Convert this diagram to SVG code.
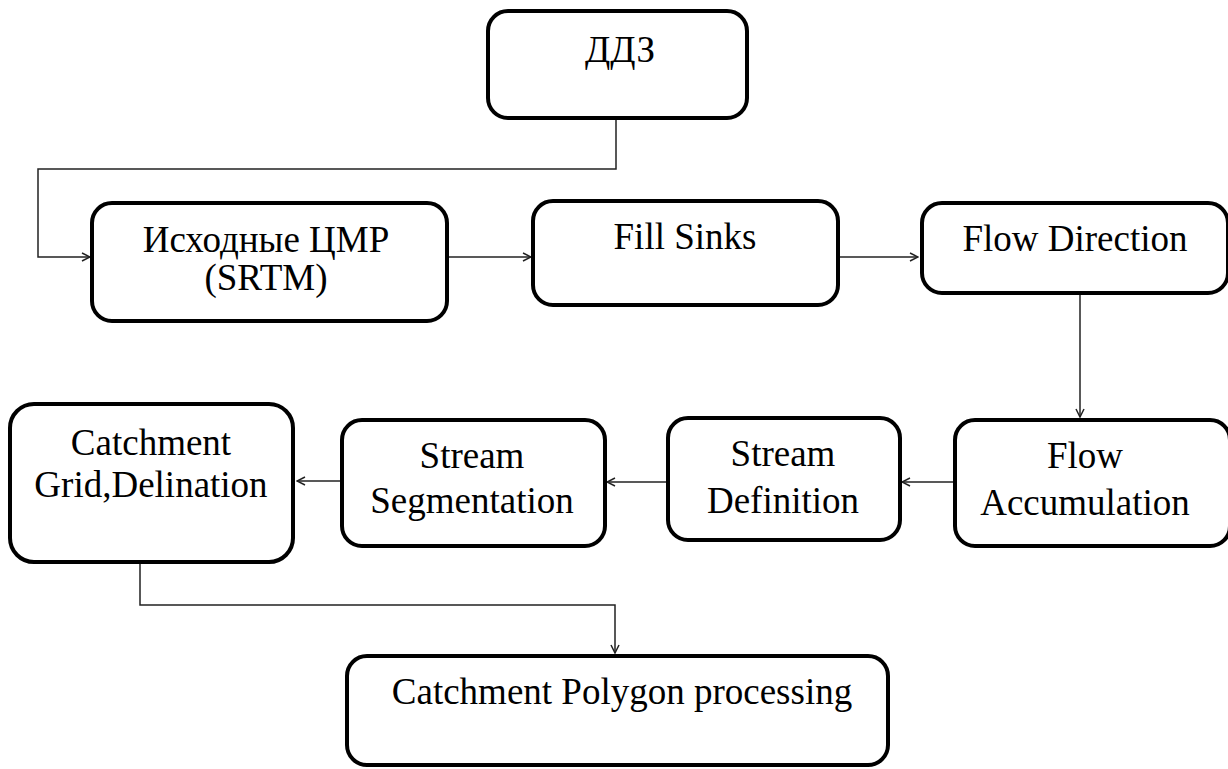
<svg xmlns="http://www.w3.org/2000/svg" width="1228" height="769" viewBox="0 0 1228 769">
<style>
.box{fill:#fff;stroke:#000;stroke-width:4}
.t{font-family:'Liberation Serif','Times New Roman','DejaVu Serif',serif;font-size:37px;fill:#000;text-anchor:middle}
.c{fill:none;stroke:#222;stroke-width:1.5}
</style>
<defs>
<marker id="a" viewBox="0 0 10 10" refX="9" refY="5" markerWidth="10" markerHeight="10" markerUnits="userSpaceOnUse" orient="auto">
<path d="M1,1 L9,5 L1,9" fill="none" stroke="#222" stroke-width="1.5"/>
</marker>
</defs>
<rect width="1228" height="769" fill="#fff"/>
<g id="connectors">
<path class="c" d="M616,118 V169 H38 V257 H90" marker-end="url(#a)"/>
<path class="c" d="M447,257 H531" marker-end="url(#a)"/>
<path class="c" d="M838,257 H918" marker-end="url(#a)"/>
<path class="c" d="M1080,294 V417" marker-end="url(#a)"/>
<path class="c" d="M953,482 H902" marker-end="url(#a)"/>
<path class="c" d="M668,482 H607" marker-end="url(#a)"/>
<path class="c" d="M342,481 H297" marker-end="url(#a)"/>
<path class="c" d="M140,562 V605 H615 V653" marker-end="url(#a)"/>
</g>
<g id="ddz"><rect class="box" x="488" y="11" width="259" height="107" rx="20"/><text class="t" x="620" y="62">ДДЗ</text></g>
<g id="srtm"><rect class="box" x="92" y="203" width="355" height="118" rx="20"/><text class="t" x="266" y="252">Исходные ЦМР</text><text class="t" x="266" y="290">(SRTM)</text></g>
<g id="fillsinks"><rect class="box" x="533" y="201" width="305" height="104" rx="20"/><text class="t" x="685" y="249">Fill Sinks</text></g>
<g id="flowdir"><rect class="box" x="922" y="203" width="306" height="90" rx="20"/><text class="t" x="1075" y="251">Flow Direction</text></g>
<g id="flowacc"><rect class="box" x="955" y="420" width="275" height="126" rx="20"/><text class="t" x="1085" y="468">Flow</text><text class="t" x="1085" y="515">Accumulation</text></g>
<g id="streamdef"><rect class="box" x="668" y="418" width="232" height="122" rx="20"/><text class="t" x="783" y="466">Stream</text><text class="t" x="783" y="513">Definition</text></g>
<g id="streamseg"><rect class="box" x="342" y="420" width="263" height="126" rx="20"/><text class="t" x="472" y="468">Stream</text><text class="t" x="472" y="513">Segmentation</text></g>
<g id="catchgrid"><rect class="box" x="10" y="404" width="283" height="158" rx="24"/><text class="t" x="151" y="455">Catchment</text><text class="t" x="151" y="497">Grid,Delination</text></g>
<g id="polygon"><rect class="box" x="347" y="656" width="541" height="109" rx="20"/><text class="t" x="622" y="704">Catchment Polygon processing</text></g>
</svg>
